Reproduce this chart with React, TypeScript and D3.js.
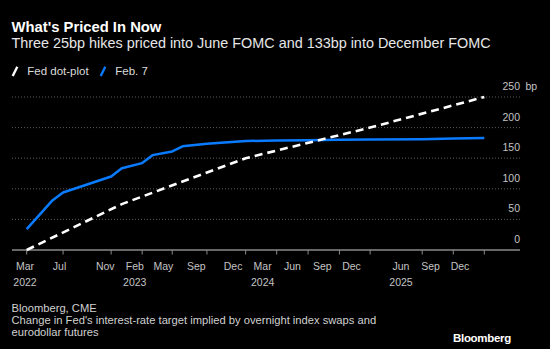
import React from "react";
import * as d3 from "d3";

// ---- Data ----
const feb7Dates = [
  "2022-03-01", "2022-05-17", "2022-06-18", "2022-11-09", "2022-12-11",
  "2023-02-10", "2023-03-13", "2023-05-11", "2023-06-11", "2023-08-23",
  "2023-12-17", "2024-03-19", "2024-06-21", "2024-09-23", "2024-12-24",
  "2025-05-29", "2025-08-30", "2025-12-01",
];
const feb7Values = [
  34, 81, 94, 120, 133.5,
  142, 155, 161, 169.5, 173.7,
  178, 179, 179.5, 180, 180.5,
  181, 182, 183,
];

const dotDates = ["2022-03-01", "2022-12-11", "2023-12-17", "2024-12-24", "2025-12-01"];
const dotValues = [0, 75, 150, 200, 250];

const tickDates = [
  "2022-03-01", "2022-06-18", "2022-11-09", "2023-02-10", "2023-05-11",
  "2023-08-23", "2023-12-17", "2024-03-19", "2024-06-21", "2024-09-23",
  "2024-12-24", "2025-05-29", "2025-08-30", "2025-12-01",
];
const tickMonths = ["Mar", "Jul", "Nov", "Feb", "May", "Sep", "Dec", "Mar", "Jun", "Sep", "Dec", "Jun", "Sep", "Dec"];
const tickYears = ["2022", "", "", "2023", "", "", "", "2024", "", "", "", "2025", "", ""];

const yTicks = [0, 50, 100, 150, 200, 250];

const title = "What's Priced In Now";
const subtitle = "Three 25bp hikes priced into June FOMC and 133bp into December FOMC";
const seriesNames = ["Fed dot-plot", "Feb. 7"];
const sourceLines = [
  "Bloomberg, CME",
  "Change in Fed's interest-rate target implied by overnight index swaps and",
  "eurodollar futures",
];

// ---- Layout ----
const W = 550;
const H = 349;
const FONT = "'Liberation Sans', Arial, sans-serif";
const BLUE = "#0a7bff";

export default function App() {
  const parse = d3.utcParse("%Y-%m-%d");
  const domain = [parse("2022-03-01")!, parse("2025-12-01")!];
  const x = d3.scaleUtc().domain(domain).range([26.7, 484.3]);
  const xLabel = d3.scaleUtc().domain(domain).range([25, 460]);
  const y = d3.scaleLinear().domain([0, 250]).range([250, 97]);

  const line = d3
    .line<[Date, number]>()
    .x((d) => x(d[0]))
    .y((d) => y(d[1]));

  const feb7: [Date, number][] = feb7Dates.map((d, i) => [parse(d)!, feb7Values[i]]);
  const dot: [Date, number][] = dotDates.map((d, i) => [parse(d)!, dotValues[i]]);

  const gridX0 = 12;
  const gridX1 = 520;

  return (
    <svg
      width={W}
      height={H}
      style={{ position: "absolute", left: 0, top: 0, display: "block", background: "#000" }}
      fontFamily={FONT}
    >
      <rect x={0} y={0} width={W} height={H} fill="#000" />
      {/* Title & subtitle */}
      <text x={11.5} y={31.5} fill="#fff" fontSize={14.8} fontWeight="bold">
        {title}
      </text>
      <text x={11.5} y={48.3} fill="#e6e6e6" fontSize={14.4}>
        {subtitle}
      </text>

      {/* Legend */}
      <line x1={12.7} y1={76} x2={17.3} y2={66.7} stroke="#fff" strokeWidth={2.4} />
      <text x={27.3} y={75} fill="#dcdcdc" fontSize={11.5}>
        {seriesNames[0]}
      </text>
      <line x1={100.7} y1={76} x2={105.3} y2={66.7} stroke={BLUE} strokeWidth={2.4} />
      <text x={115.3} y={75} fill="#dcdcdc" fontSize={11.5}>
        {seriesNames[1]}
      </text>

      {/* Grid */}
      {yTicks
        .filter((t) => t > 0)
        .map((t) => (
          <line
            key={"g" + t}
            x1={gridX0}
            x2={gridX1}
            y1={y(t)}
            y2={y(t)}
            stroke="#5a5a5a"
            strokeWidth={1}
            strokeDasharray="1,2"
          />
        ))}
      {/* Y labels */}
      {yTicks.map((t) => (
        <text
          key={"yl" + t}
          x={gridX1}
          y={y(t) - 7}
          fill="#c4c4c4"
          fontSize={10.5}
          textAnchor="end"
        >
          {t}
        </text>
      ))}
      <text x={gridX1 + 5.5} y={y(250) - 7} fill="#c4c4c4" fontSize={10.5}>
        bp
      </text>

      {/* X axis */}
      <line x1={gridX0} x2={gridX1} y1={y(0)} y2={y(0)} stroke="#8a8a8a" strokeWidth={1.6} />
      {tickDates.map((d, i) => {
        const xx = x(parse(d)!);
        const lx = xLabel(parse(d)!);
        return (
          <g key={"xt" + i}>
            <line x1={xx} x2={xx} y1={y(0)} y2={y(0) + 4.5} stroke="#8a8a8a" strokeWidth={1} />
            <text x={lx} y={270} fill="#c4c4c4" fontSize={10.5} textAnchor="middle">
              {tickMonths[i]}
            </text>
            {tickYears[i] && (
              <text x={lx} y={285.5} fill="#c4c4c4" fontSize={10.5} textAnchor="middle">
                {tickYears[i]}
              </text>
            )}
          </g>
        );
      })}

      {/* Lines */}
      <path d={line(feb7) || ""} fill="none" stroke={BLUE} strokeWidth={2.5} strokeLinejoin="round" />
      <path
        d={line(dot) || ""}
        fill="none"
        stroke="#fff"
        strokeWidth={2.6}
        strokeDasharray="8,5"
      />

      {/* Source */}
      {sourceLines.map((s, i) => (
        <text key={"s" + i} x={11.5} y={311.7 + i * 12.2} fill="#d0d0d0" fontSize={11.2}>
          {s}
        </text>
      ))}
      <text x={511} y={342} fill="#fff" fontSize={11.5} fontWeight="bold" textAnchor="end" letterSpacing={-0.3}>
        Bloomberg
      </text>
    </svg>
  );
}
